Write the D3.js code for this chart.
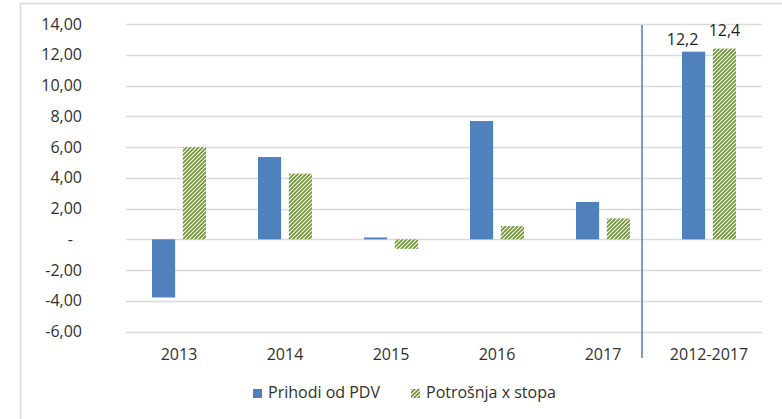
<!DOCTYPE html>
<html>
<head>
<meta charset="utf-8">
<script src="https://cdn.jsdelivr.net/npm/d3@7"></script>
<style>
  body { margin: 0; background: #fff; }
  svg text { font-family: "Open Sans", sans-serif; fill: #303030; }
</style>
</head>
<body>
<div id="chart"></div>
<script>
// data
let categories = ["2013", "2014", "2015", "2016", "2017", "2012-2017"];
let seriesNames = ["Prihodi od PDV", "Potrošnja x stopa"];
let prihodi = [-3.78, 5.35, 0.12, 7.69, 2.43, 12.2];
let potrosnja = [6.0, 4.27, -0.62, 0.86, 1.36, 12.4];
let yTicks = [-6, -4, -2, 0, 2, 4, 6, 8, 10, 12, 14];
let labelTexts = ["12,2", "12,4"];   // value labels on the last group

let W = 782, H = 419;
let plot = { left: 126, right: 762, top: 24, bottom: 331.6 };

let svg = d3.select('#chart')
    .append('svg')
    .attr('width', W)
    .attr('height', H);

// "/" diagonal hatch for the second series
let defs = svg.append('defs');
let pat = defs.append('pattern')
    .attr('id', 'hatch')
    .attr('patternUnits', 'userSpaceOnUse')
    .attr('width', 4)
    .attr('height', 4);
pat.append('rect').attr('width', 4).attr('height', 4).attr('fill', '#fff');
pat.append('path')
    .attr('d', 'M-1,1 l2,-2 M0,4 l4,-4 M3,5 l2,-2')
    .attr('stroke', '#6f9636')
    .attr('stroke-width', 1.7);

// outer chart frame
svg.append('rect')
    .attr('x', 20.5).attr('y', 3.5)
    .attr('width', 900).attr('height', 600)
    .attr('fill', 'none')
    .attr('stroke', '#d9d9d9')
    .attr('stroke-width', 1.5);

let x0 = d3.scaleBand()
    .domain(categories)
    .range([plot.left, plot.right]);

let x1 = d3.scaleBand()
    .domain(seriesNames)
    .range([26, 80])
    .paddingInner(0.25);

let y = d3.scaleLinear()
    .domain([-6, 14])
    .range([plot.bottom, plot.top]);

// gridlines
svg.append('g')
    .selectAll('line')
    .data(yTicks)
    .enter().append('line')
    .attr('x1', plot.left)
    .attr('x2', plot.right)
    .attr('y1', d => Math.round(y(d)) + 0.5)
    .attr('y2', d => Math.round(y(d)) + 0.5)
    .attr('stroke', '#d9d9d9')
    .attr('stroke-width', 1.5);

// y tick labels, decimal comma and plain hyphen for minus
let locale = d3.formatLocale({ decimal: ',', thousands: '.', grouping: [3], currency: ['', ''], minus: '-' });
let fmt = d => d === 0 ? '-' : locale.format('.2f')(d);
svg.append('g')
    .selectAll('text')
    .data(yTicks)
    .enter().append('text')
    .attr('x', d => d === 0 ? 73 : 82)
    .attr('y', d => y(d))
    .attr('dy', '0.35em')
    .attr('text-anchor', 'end')
    .style('font-size', '16px')
    .text(fmt);

// x category labels
svg.append('g')
    .selectAll('text')
    .data(categories)
    .enter().append('text')
    .attr('x', d => x0(d) + x0.bandwidth() / 2)
    .attr('y', 360)
    .attr('text-anchor', 'middle')
    .style('font-size', '16px')
    .text(d => d);

// bars
let rows = categories.map((c, i) => ({ cat: c, values: [prihodi[i], potrosnja[i]] }));
let fills = ['#4f81bd', 'url(#hatch)'];

let groups = svg.append('g')
    .selectAll('g')
    .data(rows)
    .enter().append('g')
    .attr('transform', d => 'translate(' + x0(d.cat) + ',0)');

groups.selectAll('rect')
    .data(d => d.values.map((v, i) => ({ key: seriesNames[i], value: v, i: i })))
    .enter().append('rect')
    .attr('x', d => x1(d.key))
    .attr('y', d => y(Math.max(0, d.value)))
    .attr('width', x1.bandwidth())
    .attr('height', d => Math.abs(y(d.value) - y(0)))
    .attr('fill', d => fills[d.i]);

// value labels above the last group
let last = rows[rows.length - 1];
let labelShift = [{ dx: -11, dy: -7 }, { dx: 0, dy: -13 }];
svg.append('g')
    .selectAll('text')
    .data(last.values)
    .enter().append('text')
    .attr('x', (d, i) => x0(last.cat) + x1(seriesNames[i]) + x1.bandwidth() / 2 + labelShift[i].dx)
    .attr('y', (d, i) => y(d) + labelShift[i].dy)
    .attr('text-anchor', 'middle')
    .style('font-size', '16px')
    .style('fill', '#1f1f1f')
    .text((d, i) => labelTexts[i]);

// separator line before the cumulative group
let sepX = x0(categories[categories.length - 1]) - 14;
svg.append('line')
    .attr('x1', sepX).attr('x2', sepX)
    .attr('y1', y(14) + 1)
    .attr('y2', 358)
    .attr('stroke', '#4a7ebb')
    .attr('stroke-width', 1.5);

// legend
let legend = svg.append('g');
let legendItems = [
    { name: seriesNames[0], x: 253, fill: fills[0] },
    { name: seriesNames[1], x: 411, fill: fills[1] }
];
legend.selectAll('rect')
    .data(legendItems)
    .enter().append('rect')
    .attr('x', d => d.x)
    .attr('y', 389)
    .attr('width', 9)
    .attr('height', 9)
    .attr('fill', d => d.fill);
legend.selectAll('text')
    .data(legendItems)
    .enter().append('text')
    .attr('x', d => d.x + 15)
    .attr('y', 398)
    .style('font-size', '16px')
    .text(d => d.name);
</script>
</body>
</html>
